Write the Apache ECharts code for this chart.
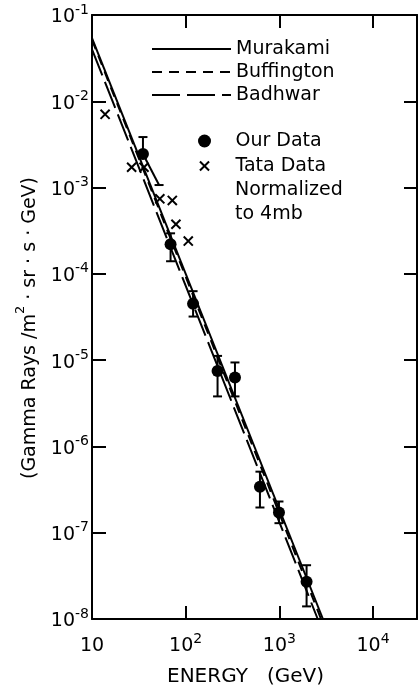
<!DOCTYPE html>
<html>
<head>
<meta charset="utf-8">
<script src="https://cdn.jsdelivr.net/npm/echarts@6/dist/echarts.min.js"></script>
<style>
    html, body {margin: 0; padding: 0; background: #fff;}
    #chart {width: 419px; height: 692px;}
</style>
</head>
<body>
<div id="chart"></div>
<script>
// values: energy in GeV, flux in gamma rays / m2 sr s GeV
var ourEnergy = [35, 69, 120, 219, 336, 621, 991, 1954];
var ourFlux = [2.45e-3, 2.2e-4, 4.5e-5, 7.5e-6, 6.3e-6, 3.4e-7, 1.72e-7, 2.7e-8];
var ourHigh = [3.85e-3, 2.95e-4, 6.3e-5, 1.12e-5, 9.4e-6, 5.1e-7, 2.3e-7, 4.2e-8];
var ourLow = [1.07e-3, 1.4e-4, 3.2e-5, 3.8e-6, 3.8e-6, 1.96e-7, 1.29e-7, 1.4e-8];
// the first lower error bar is drawn slanted in the original
var ourLowEnergy = [52, 69, 120, 219, 336, 621, 991, 1954];

var tataEnergy = [13.8, 26.5, 35.9, 53, 72, 78.7, 106.6];
var tataFlux = [7.06e-3, 1.72e-3, 1.72e-3, 7.4e-4, 7.1e-4, 3.76e-4, 2.4e-4];

var murakamiEnergy = [10, 2920];
var murakamiFlux = [5.4e-2, 1e-8];
var buffingtonEnergy = [10, 2790];
var buffingtonFlux = [5.15e-2, 1e-8];
var badhwarEnergy = [10, 2570];
var badhwarFlux = [4.0e-2, 1e-8];

var xMin = 10, xMax = 29500;
var yMin = 1e-8, yMax = 1e-1;

var FONT = 'DejaVu Sans';
var crossPath = 'path://M0,0M1.5,1.5L8.5,8.5M8.5,1.5L1.5,8.5M10,10';

function pairs(xs, ys) {
    var list = [];
    for (var i = 0; i < xs.length; i++) {
        list.push([xs[i], ys[i]]);
    }
    return list;
}

function expOf(v) {
    var e = Math.log10(v);
    if (Math.abs(e - Math.round(e)) > 0.01) return null;
    return Math.round(e);
}

var labelRich = {
    n: {fontFamily: FONT, fontSize: 19, color: '#000', lineHeight: 24, verticalAlign: 'bottom'},
    s: {fontFamily: FONT, fontSize: 14, color: '#000', lineHeight: 10, verticalAlign: 'top'}
};

var chart = echarts.init(document.getElementById('chart'));
chart.setOption({
    animation: false,
    backgroundColor: '#fff',
    grid: {left: 92, right: 2, top: 15, bottom: 69},
    legend: [
        {
            data: ['Murakami', 'Buffington', 'Badhwar'],
            orient: 'vertical',
            left: 146,
            top: 34,
            itemWidth: 79,
            itemHeight: 20,
            itemGap: 3,
            selectedMode: false,
            itemStyle: {color: 'rgba(0,0,0,0)', borderWidth: 0},
            textStyle: {fontFamily: FONT, fontSize: 19, color: '#000', lineHeight: 20}
        },
        {
            data: ['Our Data', 'Tata Data'],
            orient: 'vertical',
            left: 192,
            top: 126,
            itemWidth: 52,
            itemHeight: 13,
            itemGap: 5,
            selectedMode: false,
            textStyle: {fontFamily: FONT, fontSize: 19, color: '#000', lineHeight: 20}
        }
    ],
    graphic: [
        {type: 'text', left: 235, top: 181, style: {text: 'Normalized', font: '19px "DejaVu Sans"', fill: '#000'}},
        {type: 'text', left: 235, top: 205, style: {text: 'to 4mb', font: '19px "DejaVu Sans"', fill: '#000'}}
    ],
    xAxis: [
        {
            type: 'log',
            logBase: 10,
            min: xMin,
            max: xMax,
            name: 'ENERGY   (GeV)',
            nameLocation: 'middle',
            nameGap: 48,
            nameTextStyle: {fontFamily: FONT, fontSize: 20, color: '#000', padding: [0, 18, 0, 0]},
            axisLine: {lineStyle: {color: '#000', width: 2}},
            axisTick: {inside: true, length: 13, lineStyle: {color: '#000', width: 2}},
            splitLine: {show: false},
            minorTick: {show: false},
            axisLabel: {
                margin: 13,
                showMaxLabel: false,
                formatter: function (v) {
                    var e = expOf(v);
                    if (e === null) return '';
                    if (e === 1) return '{n|10}';
                    return '{n|10}{s|' + e + '}';
                },
                rich: labelRich
            }
        },
        {
            type: 'log',
            logBase: 10,
            min: xMin,
            max: xMax,
            position: 'top',
            axisLine: {lineStyle: {color: '#000', width: 2}},
            axisTick: {inside: true, length: 13, lineStyle: {color: '#000', width: 2}},
            axisLabel: {show: false},
            splitLine: {show: false}
        }
    ],
    yAxis: [
        {
            type: 'log',
            logBase: 10,
            min: yMin,
            max: yMax,
            name: '{n|(Gamma Rays /m}{s|2}{n| \u00b7 sr \u00b7 s \u00b7 GeV)}',
            nameLocation: 'middle',
            nameRotate: 90,
            nameGap: 52,
            nameTextStyle: {
                padding: [0, 22, 0, 0],
                rich: {
                    n: {fontFamily: FONT, fontSize: 19, color: '#000', lineHeight: 26, verticalAlign: 'bottom'},
                    s: {fontFamily: FONT, fontSize: 13, color: '#000', lineHeight: 12, verticalAlign: 'top'}
                }
            },
            axisLine: {lineStyle: {color: '#000', width: 2}},
            axisTick: {inside: true, length: 14, lineStyle: {color: '#000', width: 2}},
            splitLine: {show: false},
            minorTick: {show: false},
            axisLabel: {
                margin: 3,
                formatter: function (v) {
                    var e = expOf(v);
                    if (e === null) return '';
                    return '{n|10}{s|' + e + '}';
                },
                rich: labelRich
            }
        },
        {
            type: 'log',
            logBase: 10,
            min: yMin,
            max: yMax,
            position: 'right',
            axisLine: {lineStyle: {color: '#000', width: 2}},
            axisTick: {inside: true, length: 13, lineStyle: {color: '#000', width: 2}},
            axisLabel: {show: false},
            splitLine: {show: false}
        }
    ],
    series: [
        {
            name: 'Murakami',
            type: 'line',
            symbol: 'none',
            itemStyle: {color: '#000'},
            lineStyle: {color: '#000', width: 2, type: 'solid'},
            data: pairs(murakamiEnergy, murakamiFlux)
        },
        {
            name: 'Buffington',
            type: 'line',
            symbol: 'none',
            itemStyle: {color: '#000'},
            lineStyle: {color: '#000', width: 2, type: [10, 7]},
            data: pairs(buffingtonEnergy, buffingtonFlux)
        },
        {
            name: 'Badhwar',
            type: 'line',
            symbol: 'none',
            itemStyle: {color: '#000'},
            lineStyle: {color: '#000', width: 2, type: [28, 7]},
            data: pairs(badhwarEnergy, badhwarFlux)
        },
        {
            name: 'errors',
            type: 'custom',
            encode: {x: [0, 3], y: [1, 2]},
            data: function () {
                var list = [];
                for (var i = 0; i < ourEnergy.length; i++) {
                    list.push([ourEnergy[i], ourHigh[i], ourLow[i], ourLowEnergy[i], ourFlux[i]]);
                }
                return list;
            }(),
            renderItem: function (params, api) {
                var top = api.coord([api.value(0), api.value(1)]);
                var mid = api.coord([api.value(0), api.value(4)]);
                var bot = api.coord([api.value(3), api.value(2)]);
                var w = 4.5;
                var style = {stroke: '#000', lineWidth: 2, fill: null};
                return {
                    type: 'group',
                    children: [
                        {type: 'line', shape: {x1: top[0] - w, y1: top[1], x2: top[0] + w, y2: top[1]}, style: style},
                        {type: 'line', shape: {x1: top[0], y1: top[1], x2: mid[0], y2: mid[1]}, style: style},
                        {type: 'line', shape: {x1: mid[0], y1: mid[1], x2: bot[0], y2: bot[1]}, style: style},
                        {type: 'line', shape: {x1: bot[0] - w, y1: bot[1], x2: bot[0] + w, y2: bot[1]}, style: style}
                    ]
                };
            }
        },
        {
            name: 'Our Data',
            type: 'scatter',
            symbol: 'circle',
            symbolSize: 12,
            itemStyle: {color: '#000', opacity: 1},
            data: pairs(ourEnergy, ourFlux)
        },
        {
            name: 'Tata Data',
            type: 'scatter',
            symbol: crossPath,
            symbolSize: 13,
            itemStyle: {color: 'rgba(0,0,0,0)', borderColor: '#000', borderWidth: 2, opacity: 1},
            data: pairs(tataEnergy, tataFlux)
        }
    ]
});
</script>
</body>
</html>
